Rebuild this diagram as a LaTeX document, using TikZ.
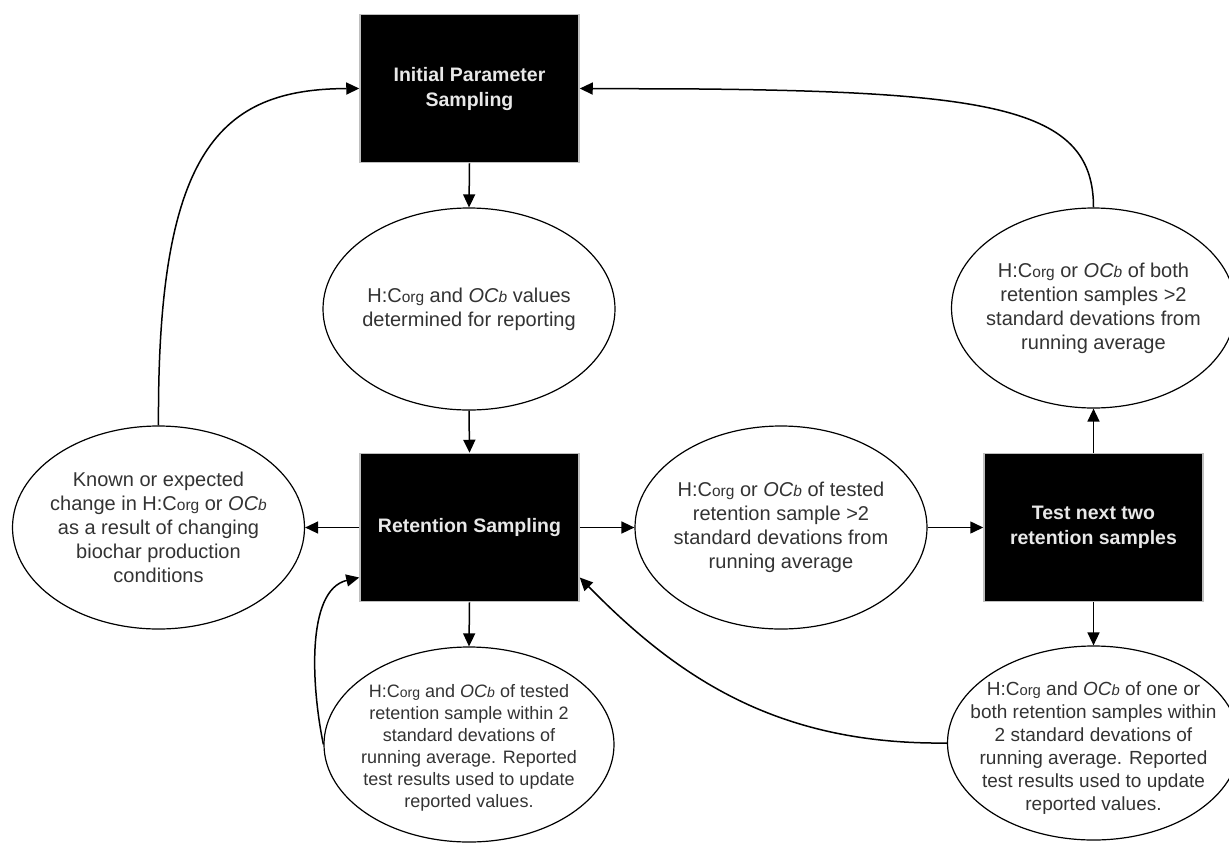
\documentclass[tikz,border=0pt]{standalone}
\usepackage{fontspec}
\setmainfont{Liberation Sans}
\usetikzlibrary{arrows.meta,shapes.geometric}
\definecolor{txtgray}{HTML}{333333}
\definecolor{boxline}{HTML}{BFBFBF}
\definecolor{boxtxt}{HTML}{E8E8E8}
\newcommand\Corg[1][15.5]{C{\fontsize{#1}{18}\selectfont org}}
\newcommand\OCb[1][15.5]{\textit{OC{\fontsize{#1}{18}\selectfont b}}}
\begin{document}
\begin{tikzpicture}[x=1pt,y=-1pt,
  blackbox/.style={rectangle, fill=black, draw=boxline, line width=1.5pt,
    minimum width=219pt, minimum height=148pt, inner sep=0pt,
    text=boxtxt, font=\fontsize{19.5}{25}\selectfont\bfseries, align=center},
  ell/.style={ellipse, draw=black, line width=1.2pt, inner sep=0pt},
  etext/.style={text=txtgray, font=\fontsize{20}{24}\selectfont, align=center, inner sep=0pt},
  etextsmall/.style={etext, font=\fontsize{18}{22}\selectfont},
  etextmid/.style={etext, font=\fontsize{19}{23}\selectfont},
  conn/.style={draw=black, line width=1.5pt, -{Triangle[length=13pt,width=12pt]}}]
\useasboundingbox (0,0) rectangle (1229,844);
\fill[white] (0,0) rectangle (1229,844);

% boxes
\node[blackbox] (init) at (469.5,88.5) {Initial Parameter\\Sampling};
\node[blackbox] (ret) at (469.5,527.5) {Retention Sampling};
\node[blackbox] (test) at (1093.5,527.5) {Test next two\\retention samples};

% ellipses
\node[ell, minimum width=292pt, minimum height=202pt] (e1) at (469,309) {};
\node[etext] (e1t) at (e1.center) {H:\Corg{} and \OCb{} values\\determined for reporting};

\node[ell, minimum width=292pt, minimum height=203pt] (el) at (158.5,527.5) {};
\node[etext] (elt) at (el.center) {Known or expected\\change in H:\Corg{} or \OCb\\as a result of changing\\biochar production\\conditions};

\node[ell, minimum width=292pt, minimum height=203pt] (em) at (781,527.5) {};
\node[etext] (emt) at (em.center) {H:\Corg{} or \OCb{} of tested\\retention sample {>}2\\standard devations from\\running average};

\node[ell, minimum width=284pt, minimum height=200pt] (etr) at (1093.5,308) {};
\node[etext] (etrt) at (etr.center) {H:\Corg{} or \OCb{} of both\\retention samples {>}2\\standard devations from\\running average};

\node[ell, minimum width=290pt, minimum height=195pt] (ebl) at (469,744.5) {};
\node[etextsmall] (eblt) at ([yshift=-3pt]ebl.center) {H:\Corg[14]{} and \OCb[14]{} of tested\\retention sample within 2\\standard devations of\\running average. Reported\\test results used to update\\reported values.};

\node[ell, minimum width=292pt, minimum height=194pt] (ebr) at (1093.5,743) {};
\node[etextmid] (ebrt) at ([yshift=-5pt]ebr.center) {H:\Corg[14.8]{} and \OCb[14.8]{} of one or\\both retention samples within\\2 standard devations of\\running average. Reported\\test results used to update\\reported values.};

% straight connectors
\draw[conn] (init.south) -- (e1.north);
\draw[conn] (e1.south) -- (ret.north);
\draw[conn] (ret.west) -- (el.east);
\draw[conn] (ret.east) -- (em.west);
\draw[conn] (em.east) -- (test.west);
\draw[conn] (test.north) -- (etr.south);
\draw[conn] (test.south) -- (ebr.north);
\draw[conn] (ret.south) -- (ebl.north);

% curved connectors
\draw[conn] (el.north) .. controls (157,150) and (220,89) .. (init.west);
\draw[conn] (etr.north) .. controls (1093.5,110) and (1000,92) .. (700,89) -- (init.east);
\draw[conn] (ebl.west) .. controls (312,690) and (305,590) .. ([yshift=-50pt]ret.west);
\draw[conn] (ebr.west) .. controls (780,745) and (680,680) .. ([yshift=-50pt]ret.east);
\end{tikzpicture}
\end{document}
